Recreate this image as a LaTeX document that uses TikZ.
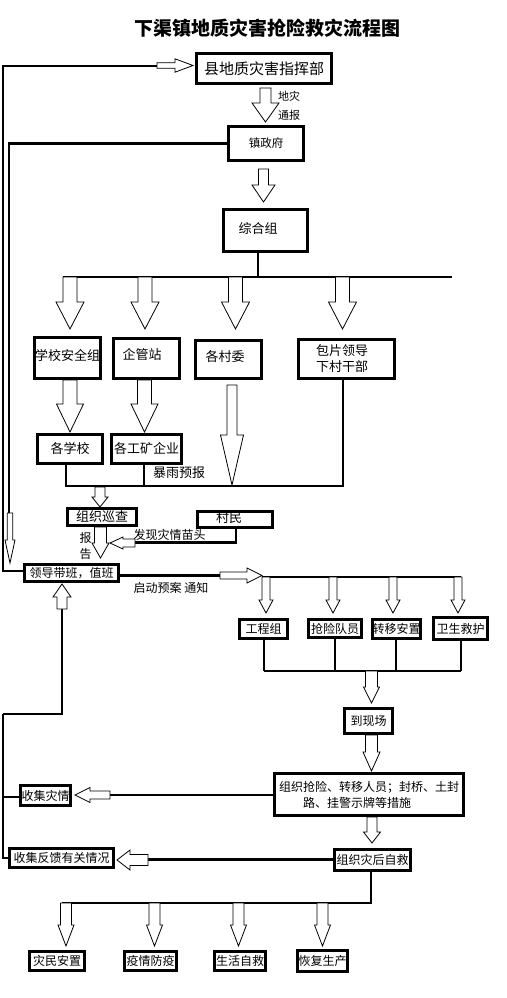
\documentclass[tikz,border=0pt]{standalone}
\usepackage{fontspec}
\setmainfont{Noto Sans CJK SC}
\newcommand\fsz[1]{\fontsize{#1}{#1}\selectfont}
\newcommand\varr[6]{\draw[hol] ({#1-#5},#2) -- ({#1-#5},#3) -- ({#1-#6},#3) -- (#1,#4) -- ({#1+#6},#3) -- ({#1+#5},#3) -- ({#1+#5},#2) -- cycle;}
\newcommand\harr[6]{\draw[hol] (#2,{#1-#5}) -- (#3,{#1-#5}) -- (#3,{#1-#6}) -- (#4,#1) -- (#3,{#1+#6}) -- (#3,{#1+#5}) -- (#2,{#1+#5}) -- cycle;}
\tikzset{
  box/.style={draw, line width=2.8pt, inner sep=0pt, font=\fsz{13}},
  sz/.style 2 args={minimum width=#1pt-2.8pt, minimum height=#2pt-2.8pt},
  ln/.style={line width=2.8pt},
  hol/.style={draw, fill=white, line width=0.8pt, line join=miter},
  txt/.style={inner sep=0pt},
}
\begin{document}
\begin{tikzpicture}[x=1pt,y=-1pt]
\useasboundingbox[fill=white] (0,0) rectangle (506,998);
% title
\node[txt] (title) at (267.5,28) {\bfseries\fsz{19}下渠镇地质灾害抢险救灾流程图};
% boxes
\node[box, sz={138}{33}, line width=3.5pt, font=\fsz{15}] (county) at (264,68.5) {县地质灾害指挥部};
\node[box, sz={78}{37}, font=\fsz{11.5}] (zhen) at (266,143.5) {镇政府};
\node[box, sz={87}{45}] (zonghe) at (265.5,230.5) {};
\node[box, sz={69}{44}] (xuexiao) at (67.5,358) {};
\node[box, sz={69}{43}] (qiguan) at (146.5,358.5) {};
\node[box, sz={69}{41}] (cunwei) at (228.5,359.5) {};
\node[box, sz={99}{42}] (baopian) at (346.5,359) {};
\node[box, sz={68}{32}] (gexuexiao) at (70,449) {各学校};
\node[box, sz={73}{32}] (gongkuang) at (146.5,449) {各工矿企业};
\node[box, sz={72}{20}] (xuncha) at (102,517) {组织巡查};
\node[box, sz={78}{19}] (cunmin) at (235,519.5) {};
\node[box, sz={97}{20}, font=\fsz{12}] (lingdao) at (71.5,573) {领导带班，值班};
\node[box, sz={51}{22}, font=\fsz{12}] (gongcheng) at (263.5,629) {工程组};
\node[box, sz={56}{21}, font=\fsz{12}] (qiangxian) at (335,628.5) {抢险队员};
\node[box, sz={51}{22}, font=\fsz{12}] (zhuanyi) at (396.5,629) {转移安置};
\node[box, sz={57}{25}, font=\fsz{12}] (weisheng) at (460.5,628.5) {卫生救护};
\node[box, sz={51}{28}, font=\fsz{12}] (xianchang) at (368.5,721) {到现场};
\node[box, sz={192}{45}, font=\fsz{12}, align=left] (zuzhi) at (369,794.5) {组织抢险、转移人员；封桥、土封\\[3pt]\hspace*{2em}路、挂警示牌等措施};
\node[box, sz={53}{23}, font=\fsz{12}] (shouji) at (45.5,795.5) {收集灾情};
\node[box, sz={107}{22}, font=\fsz{12}] (fankui) at (61.5,858) {收集反馈有关情况};
\node[box, sz={79}{24}, font=\fsz{12}] (zijiu) at (372.5,860) {组织灾后自救};
\node[box, sz={58}{22}, font=\fsz{12}] (b1) at (57,961) {灾民安置};
\node[box, sz={55}{22}, font=\fsz{12}] (b2) at (150.5,961) {疫情防疫};
\node[box, sz={54}{22}, font=\fsz{12}] (b3) at (240,961) {生活自救};
\node[box, sz={53}{24}, font=\fsz{12}] (b4) at (322.5,961) {恢复生产};
% texts placed off-centre inside boxes
\node[txt, font=\fsz{13}] (zonghe-t) at (258,229) {综合组};
\node[txt, font=\fsz{13}] (xuexiao-t) at (67.5,355) {学校安全组};
\node[txt, font=\fsz{13}] (qiguan-t) at (142,355) {企管站};
\node[txt, font=\fsz{13}] (cunwei-t) at (225,357) {各村委};
\node[txt, font=\fsz{13}, align=left] (baopian-t) at (342,359) {包片领导\\[3pt]下村干部};
\node[txt, font=\fsz{13}] (cunmin-t) at (229,518) {村民};
% connector lines
\draw[ln] (lingdao.west |- 0,571) -- (3,571) -- (3,66) -- (157,66);
\draw[ln] (zhen.west) -- (9,143.5) -- (9,513);
\draw[ln] (zonghe.south -| 258,0) -- (258,277);
\draw[ln] (63,277) -- (452,277);
\draw[ln] (baopian.south -| 343,0) -- (343,486) -- (65,486);
\draw[ln] (gexuexiao.south -| 66,0) -- (66,486);
\draw[ln] (gongkuang.south -| 144,0) -- (144,486);
\draw[ln] (cunmin.south -| 236,0) -- (236,542.5) -- (135,542.5);
\draw[ln] (lingdao.east |- 0,575.5) -- (220,575.5);
\draw[ln] (262,577) -- (461,577);
\draw[ln] (gongcheng.south -| 264,0) -- (264,671);
\draw[ln] (qiangxian.south -| 335,0) -- (335,671);
\draw[ln] (zhuanyi.south -| 396,0) -- (396,671);
\draw[ln] (weisheng.south -| 461,0) -- (461,671);
\draw[ln] (264,671) -- (461,671);
\draw[ln] (zuzhi.west |- 0,795) -- (110,795);
\draw[ln] (shouji.west |- 0,797) -- (3,797);
\draw[ln] (3,714) -- (3,858) -- (fankui.west |- 0,858);
\draw[ln] (3,714) -- (62,714) -- (62,609);
\draw[ln] (zijiu.west |- 0,859.5) -- (148,859.5);
\draw[ln] (zijiu.south -| 371,0) -- (371,903) -- (62,903);
% hollow block arrows
\harr{65.5}{157}{175}{193}{2.8}{6.7}
\varr{265.5}{88}{103}{122}{5.5}{13.5}
\varr{263.5}{169}{185}{202}{5}{11.5}
\varr{70}{277}{302}{329}{7}{14}
\varr{145}{277}{302}{329}{7}{14}
\varr{235.5}{277}{302}{329}{7}{14}
\varr{342.5}{277}{302}{329}{7}{14}
\varr{70}{380}{404}{432}{7}{13.5}
\varr{144.5}{380}{404}{432}{7}{13.5}
\varr{232}{385}{435}{485}{5}{11.5}
\varr{100}{487}{497}{507}{5}{8}
\varr{100.5}{527}{543}{558}{6}{8.5}
\harr{543}{135}{123}{110}{4}{6}
\varr{10}{513}{540}{563}{2.7}{5}
\harr{575.5}{220}{247}{262}{3.5}{7.5}
\varr{266}{577}{600}{613}{4}{7}
\varr{333}{577}{600}{613}{4}{7}
\varr{393}{577}{600}{613}{4}{7}
\varr{458}{577}{600}{613}{4}{7}
\varr{371.5}{671}{687}{703}{6}{8}
\varr{371.5}{735}{752}{771}{6}{8.5}
\harr{795}{110}{90}{75}{4}{7.5}
\varr{62}{609}{597}{584}{5}{9}
\varr{372}{817}{832}{843}{5}{8.5}
\harr{860}{148}{130}{117}{5.5}{10}
\varr{66}{903}{925}{946}{5.5}{8}
\varr{154.5}{903}{925}{946}{5.5}{8}
\varr{238.5}{903}{925}{946}{5.5}{8}
\varr{322.5}{903}{925}{946}{5.5}{8}
% free labels
\node[txt, font=\fsz{11}] (l-dizai) at (289,96) {地灾};
\node[txt, font=\fsz{11}] (l-tongbao) at (289,115) {通报};
\node[txt, font=\fsz{13}] (l-baoyu) at (179,473) {暴雨预报};
\node[txt, font=\fsz{12}] (l-faxian) at (169.5,535) {发现灾情苗头};
\node[txt, font=\fsz{12}] (l-bao) at (85.5,538) {报};
\node[txt, font=\fsz{12}] (l-gao) at (85.5,554) {告};
\node[txt, font=\fsz{12}] (l-qidong) at (171,588) {启动预案\ 通知};
\end{tikzpicture}
\end{document}
